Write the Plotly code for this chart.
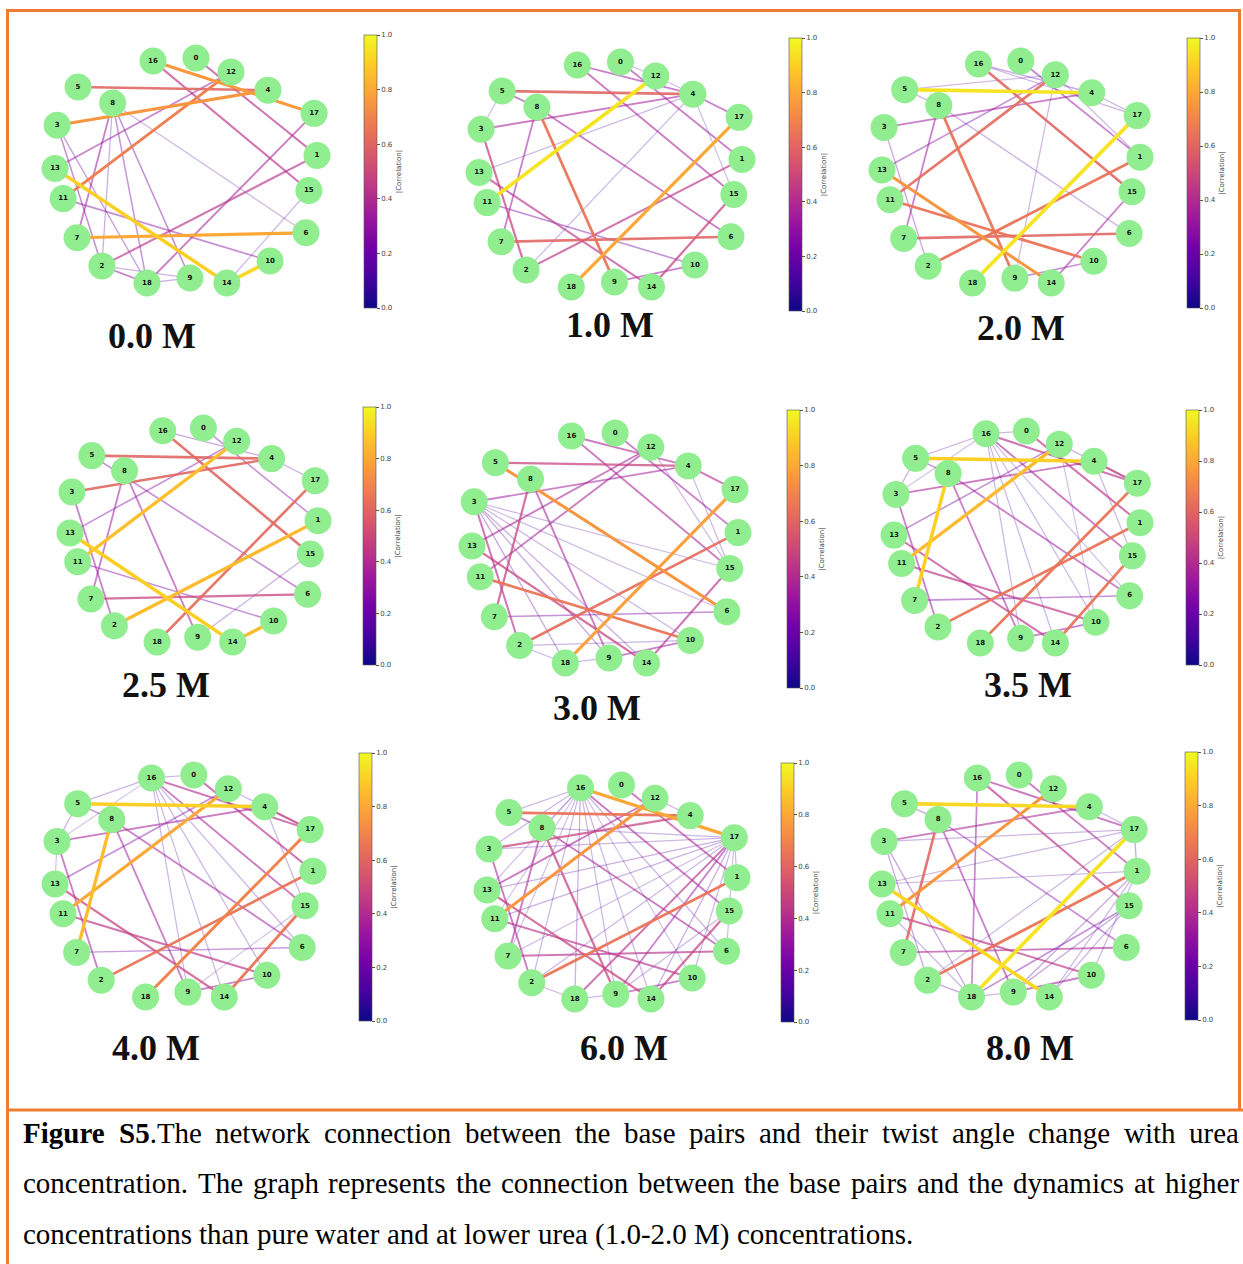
import plotly.graph_objects as go
from plotly.colors import sample_colorscale

W, H = 1243, 1264

# ---------------------------------------------------------------- data
NODES = [str(i) for i in range(19)]

# normalised ring layout of the 19 base-pair nodes (x to the right, y up)
LAYOUT_X = [0.538, 1.000, 0.179, 0.008, 0.813, 0.088, 0.958, 0.084, 0.220, 0.515,
            0.821, 0.031, 0.672, 0.000, 0.656, 0.969, 0.374, 0.989, 0.351]
LAYOUT_Y = [1.000, 0.567, 0.076, 0.701, 0.857, 0.871, 0.223, 0.201, 0.800, 0.022,
            0.098, 0.375, 0.938, 0.509, 0.000, 0.411, 0.987, 0.754, 0.000]

CONCENTRATIONS = ["0.0 M", "1.0 M", "2.0 M", "2.5 M", "3.0 M", "3.5 M", "4.0 M", "6.0 M", "8.0 M"]

# edges: (node a, node b, |correlation|)
EDGES_00 = [(16, 17, 0.76), (16, 15, 0.44), (0, 1, 0.42), (5, 4, 0.60), (3, 4, 0.75),
            (13, 12, 0.32), (11, 12, 0.68), (8, 7, 0.34), (13, 14, 0.90), (14, 10, 0.92),
            (7, 6, 0.80), (2, 1, 0.42), (18, 17, 0.37), (2, 18, 0.32), (3, 2, 0.26),
            (3, 18, 0.20), (11, 10, 0.28), (8, 9, 0.26), (8, 18, 0.24), (8, 2, 0.16),
            (8, 6, 0.14), (15, 14, 0.14), (18, 9, 0.16), (2, 9, 0.14)]
EDGES_10 = [(16, 15, 0.37), (16, 4, 0.34), (0, 1, 0.34), (0, 12, 0.12), (5, 4, 0.60),
            (5, 8, 0.34), (3, 4, 0.37), (13, 4, 0.14), (11, 12, 0.95), (8, 7, 0.34),
            (8, 9, 0.65), (8, 6, 0.37), (3, 2, 0.48), (13, 14, 0.42), (11, 10, 0.26),
            (7, 6, 0.60), (2, 1, 0.44), (18, 17, 0.80), (9, 10, 0.32), (14, 15, 0.48),
            (2, 4, 0.14), (4, 17, 0.32), (4, 15, 0.12), (12, 4, 0.12), (5, 3, 0.12)]
EDGES_20 = [(5, 4, 0.95), (16, 15, 0.60), (16, 4, 0.18), (16, 17, 0.14), (0, 1, 0.32),
            (5, 12, 0.12), (3, 4, 0.34), (13, 12, 0.26), (11, 12, 0.62), (8, 7, 0.34),
            (8, 9, 0.65), (8, 6, 0.16), (13, 14, 0.75), (11, 10, 0.65), (7, 6, 0.60),
            (2, 1, 0.65), (18, 17, 0.95), (9, 10, 0.26), (14, 15, 0.34), (3, 2, 0.18),
            (12, 9, 0.14), (4, 17, 0.14), (12, 1, 0.14), (5, 8, 0.14)]
EDGES_25 = [(16, 15, 0.60), (16, 4, 0.18), (0, 1, 0.26), (5, 4, 0.60), (3, 4, 0.60),
            (13, 12, 0.26), (11, 12, 0.86), (8, 7, 0.34), (8, 9, 0.34), (5, 6, 0.28),
            (13, 14, 0.90), (11, 10, 0.26), (7, 6, 0.48), (2, 1, 0.85), (18, 17, 0.62),
            (14, 10, 0.85), (3, 2, 0.34), (15, 9, 0.16), (4, 17, 0.14)]
EDGES_30 = [(16, 15, 0.37), (16, 4, 0.37), (0, 1, 0.34), (5, 4, 0.48), (5, 6, 0.75),
            (3, 4, 0.34), (13, 12, 0.37), (11, 12, 0.37), (8, 7, 0.48), (8, 9, 0.37),
            (4, 17, 0.42), (3, 2, 0.42), (13, 14, 0.48), (11, 10, 0.65), (7, 6, 0.26),
            (2, 1, 0.62), (18, 17, 0.78), (15, 14, 0.42), (9, 10, 0.32), (3, 15, 0.14),
            (3, 10, 0.14), (3, 9, 0.18), (3, 14, 0.16), (3, 18, 0.18), (3, 6, 0.12),
            (2, 18, 0.14), (2, 10, 0.14), (4, 15, 0.14), (12, 15, 0.14), (18, 9, 0.14)]
EDGES_35 = [(5, 4, 0.90), (16, 17, 0.42), (16, 15, 0.37), (0, 1, 0.44), (11, 12, 0.85),
            (8, 7, 0.90), (3, 4, 0.37), (13, 12, 0.26), (8, 9, 0.34), (8, 6, 0.34),
            (3, 2, 0.34), (13, 14, 0.44), (11, 10, 0.44), (7, 6, 0.26), (2, 1, 0.65),
            (18, 17, 0.65), (14, 15, 0.65), (9, 10, 0.34), (4, 17, 0.48), (12, 17, 0.14),
            (16, 9, 0.14), (16, 10, 0.14), (16, 6, 0.12), (16, 14, 0.14), (16, 5, 0.14),
            (16, 3, 0.12), (16, 0, 0.14), (5, 3, 0.14), (4, 15, 0.14), (12, 10, 0.12),
            (5, 8, 0.26)]
EDGES_40 = [(5, 4, 0.90), (11, 12, 0.80), (8, 7, 0.85), (16, 17, 0.42), (16, 15, 0.37),
            (0, 1, 0.42), (3, 4, 0.37), (13, 12, 0.26), (8, 9, 0.34), (8, 6, 0.34),
            (3, 2, 0.34), (13, 14, 0.48), (11, 10, 0.44), (7, 6, 0.22), (2, 1, 0.65),
            (18, 17, 0.70), (14, 15, 0.65), (9, 10, 0.32), (4, 17, 0.48), (16, 9, 0.14),
            (16, 10, 0.14), (16, 6, 0.14), (16, 14, 0.14), (16, 5, 0.14), (16, 3, 0.12),
            (16, 0, 0.14), (5, 3, 0.14), (12, 17, 0.14), (4, 15, 0.14), (13, 3, 0.12),
            (5, 8, 0.26), (9, 15, 0.12)]
EDGES_60 = [(16, 17, 0.80), (16, 15, 0.37), (0, 1, 0.37), (5, 4, 0.65), (11, 12, 0.75),
            (3, 4, 0.48), (13, 12, 0.37), (8, 7, 0.37), (8, 9, 0.48), (8, 6, 0.37),
            (3, 2, 0.37), (13, 14, 0.48), (11, 10, 0.42), (7, 6, 0.42), (2, 1, 0.65),
            (18, 17, 0.42), (9, 17, 0.32), (14, 15, 0.48), (9, 10, 0.32), (5, 8, 0.30),
            (16, 3, 0.14), (16, 13, 0.12), (16, 2, 0.14), (16, 18, 0.16), (16, 9, 0.14),
            (16, 14, 0.14), (16, 10, 0.12), (16, 6, 0.14), (16, 5, 0.14), (16, 8, 0.12),
            (16, 11, 0.12), (16, 7, 0.12), (17, 8, 0.14), (17, 3, 0.14), (17, 13, 0.16),
            (17, 11, 0.14), (17, 7, 0.12), (17, 2, 0.14), (17, 14, 0.16), (17, 10, 0.14),
            (17, 6, 0.12), (17, 1, 0.14), (18, 2, 0.14), (18, 9, 0.14), (15, 9, 0.14),
            (12, 4, 0.14)]
EDGES_80 = [(5, 4, 0.92), (11, 12, 0.75), (8, 7, 0.60), (16, 17, 0.37), (16, 15, 0.44),
            (16, 18, 0.30), (0, 1, 0.37), (3, 4, 0.37), (8, 9, 0.34), (8, 6, 0.26),
            (13, 14, 0.92), (11, 10, 0.44), (7, 6, 0.37), (2, 1, 0.65), (18, 17, 0.95),
            (9, 10, 0.37), (3, 17, 0.14), (13, 17, 0.14), (13, 1, 0.14), (18, 15, 0.26),
            (9, 15, 0.18), (9, 1, 0.18), (14, 1, 0.14), (14, 15, 0.14), (2, 18, 0.18),
            (11, 18, 0.14), (3, 18, 0.18), (4, 17, 0.14), (5, 8, 0.18), (18, 9, 0.14),
            (17, 1, 0.18), (2, 17, 0.14), (10, 1, 0.14), (3, 2, 0.18)]

EDGE_SETS = [EDGES_00, EDGES_10, EDGES_20, EDGES_25, EDGES_30,
             EDGES_35, EDGES_40, EDGES_60, EDGES_80]

CBAR_TICKS = [0.0, 0.2, 0.4, 0.6, 0.8, 1.0]
CBAR_TICKTEXT = ["0.0", "0.2", "0.4", "0.6", "0.8", "1.0"]
CBAR_TITLE = "|Correlation|"

CAPTION_BOLD = "Figure S5"
CAPTION_LINES = [
    "Figure S5.The network connection between the base pairs and their twist angle change with urea",
    "concentration. The graph represents the connection between the base pairs and the dynamics at higher",
    "concentrations than pure water and at lower urea (1.0-2.0 M) concentrations.",
]

# ---------------------------------------------------------------- panel geometry (pixels)
# node box (x0, x1, y0, y1), colourbar (left, top, bottom), title centre (x, y)
PANELS = [
    dict(box=(55, 317, 58, 283), cbar=(364, 35, 308), title=(152, 336)),
    dict(box=(479, 742, 62, 287), cbar=(789, 38, 311), title=(610, 325)),
    dict(box=(882, 1140, 61, 283), cbar=(1187, 38, 308), title=(1021, 328)),
    dict(box=(70, 318, 428, 642), cbar=(363, 407, 665), title=(166, 685)),
    dict(box=(472, 738, 433, 663), cbar=(787, 410, 688), title=(597, 708)),
    dict(box=(894, 1140, 431, 643), cbar=(1186, 410, 665), title=(1028, 685)),
    dict(box=(55, 313, 775, 997), cbar=(359, 753, 1021), title=(156, 1048)),
    dict(box=(487, 737, 785, 999), cbar=(781, 763, 1022), title=(624, 1048)),
    dict(box=(882, 1137, 775, 997), cbar=(1185, 752, 1020), title=(1030, 1048)),
]

ORANGE = "#ED7D31"
SERIF = "Liberation Serif, Times New Roman, serif"


def px(x):
    return x / W


def py(y):
    return 1 - y / H


fig = go.Figure()
layout_axes = {}

for k, (panel, edges, label) in enumerate(zip(PANELS, EDGE_SETS, CONCENTRATIONS)):
    suffix = "" if k == 0 else str(k + 1)
    xa, ya = "x" + suffix, "y" + suffix
    x0, x1, y0, y1 = panel["box"]
    layout_axes["xaxis" + suffix] = dict(domain=[px(x0), px(x1)], range=[0, 1], visible=False,
                                         anchor=ya, fixedrange=True)
    layout_axes["yaxis" + suffix] = dict(domain=[py(y1), py(y0)], range=[0, 1], visible=False,
                                         anchor=xa, fixedrange=True)

    # edges, weakest first so strong correlations sit on top
    for a, b, w in sorted(edges, key=lambda e: e[2]):
        fig.add_trace(go.Scatter(
            x=[LAYOUT_X[a], LAYOUT_X[b]], y=[LAYOUT_Y[a], LAYOUT_Y[b]],
            mode="lines", xaxis=xa, yaxis=ya,
            line=dict(color=sample_colorscale("Plasma", [w])[0], width=0.8 + 3.0 * w),
            opacity=min(1.0, 0.1 + 1.3 * w),
            hoverinfo="skip", showlegend=False))

    # colour scale carrier (edge midpoints, invisible) with the |correlation| colourbar
    left, top, bottom = panel["cbar"]
    fig.add_trace(go.Scatter(
        x=[(LAYOUT_X[a] + LAYOUT_X[b]) / 2 for a, b, _ in edges],
        y=[(LAYOUT_Y[a] + LAYOUT_Y[b]) / 2 for a, b, _ in edges],
        mode="markers", xaxis=xa, yaxis=ya, hoverinfo="skip", showlegend=False,
        marker=dict(size=1, opacity=0, color=[w for _, _, w in edges],
                    colorscale="Plasma", cmin=0, cmax=1, showscale=True,
                    colorbar=dict(
                        x=px(left), xanchor="left", xpad=0,
                        y=py((top + bottom) / 2), yanchor="middle", ypad=0,
                        len=bottom - top, lenmode="pixels",
                        thickness=13, thicknessmode="pixels",
                        outlinewidth=0.6, outlinecolor="#555555",
                        tickvals=CBAR_TICKS, ticktext=CBAR_TICKTEXT,
                        ticks="outside", ticklen=3, tickwidth=0.6, tickcolor="#555555",
                        tickfont=dict(family="DejaVu Sans", size=7, color="#444444"),
                        title=dict(text=CBAR_TITLE, side="right",
                                   font=dict(family="DejaVu Sans", size=7, color="#444444")),
                    ))))

    # nodes
    fig.add_trace(go.Scatter(
        x=LAYOUT_X, y=LAYOUT_Y, mode="markers+text", xaxis=xa, yaxis=ya,
        text=["<b>%s</b>" % n for n in NODES], textposition="middle center",
        textfont=dict(family="DejaVu Sans", size=7, color="#111111"),
        marker=dict(size=27, color="#90EE90", line=dict(width=0)),
        cliponaxis=False, hoverinfo="skip", showlegend=False))

    tx, ty = panel["title"]
    fig.add_annotation(x=px(tx), y=py(ty), xref="paper", yref="paper",
                       text="<b>%s</b>" % label, showarrow=False,
                       xanchor="center", yanchor="middle",
                       font=dict(family=SERIF, size=36, color="#111111"))

# ---------------------------------------------------------------- caption (justified)
REG = {" ": 250, ".": 250, ",": 250, "(": 333, ")": 333, "-": 333,
       "a": 444, "b": 500, "c": 444, "d": 500, "e": 444, "f": 333, "g": 500, "h": 500,
       "i": 278, "j": 278, "k": 500, "l": 278, "m": 778, "n": 500, "o": 500, "p": 500,
       "q": 500, "r": 333, "s": 389, "t": 278, "u": 500, "v": 500, "w": 722, "x": 500,
       "y": 500, "z": 444, "T": 611, "M": 889, "F": 556, "S": 556}
BOLD = {"F": 611, "i": 278, "g": 500, "u": 556, "r": 444, "e": 444, "S": 556}
for d in "0123456789":
    REG[d] = 500
    BOLD[d] = 500

CAP_SIZE = 29
CAP_LEFT, CAP_RIGHT = 22, 1238
CAP_Y = [1133, 1183, 1234]

for li, line in enumerate(CAPTION_LINES):
    words, widths, pos = [], [], 0
    for word in line.split(" "):
        html, wpx = "", 0.0
        for ch in word:
            bold = li == 0 and pos < len(CAPTION_BOLD)
            wpx += (BOLD.get(ch, REG.get(ch, 500)) if bold else REG.get(ch, 500)) * CAP_SIZE / 1000
            html += "<b>%s</b>" % ch if bold and ch != " " else ch
            pos += 1
        pos += 1
        words.append(html.replace("</b><b>", ""))
        widths.append(wpx)
    if li < len(CAPTION_LINES) - 1:
        gap = (CAP_RIGHT - CAP_LEFT - sum(widths)) / (len(words) - 1)
    else:
        gap = REG[" "] * CAP_SIZE / 1000
    x = CAP_LEFT
    for html, wpx in zip(words, widths):
        fig.add_annotation(x=px(x), y=py(CAP_Y[li]), xref="paper", yref="paper",
                           text=html, showarrow=False, xanchor="left", yanchor="middle",
                           borderpad=0, font=dict(family=SERIF, size=CAP_SIZE, color="#000000"))
        x += wpx + gap

# ---------------------------------------------------------------- frame
frame = [((6, 10.5), (1241, 10.5)), ((7.5, 9), (7.5, 1264)),
         ((1239.5, 9), (1239.5, 1111)), ((6, 1110), (1243, 1110))]
shapes = [dict(type="line", xref="paper", yref="paper",
               x0=px(a[0]), y0=py(a[1]), x1=px(b[0]), y1=py(b[1]),
               line=dict(color=ORANGE, width=3)) for a, b in frame]

fig.update_layout(width=W, height=H, margin=dict(l=0, r=0, t=0, b=0),
                  paper_bgcolor="white", plot_bgcolor="white",
                  shapes=shapes, **layout_axes)

fig.write_html("out.html")
